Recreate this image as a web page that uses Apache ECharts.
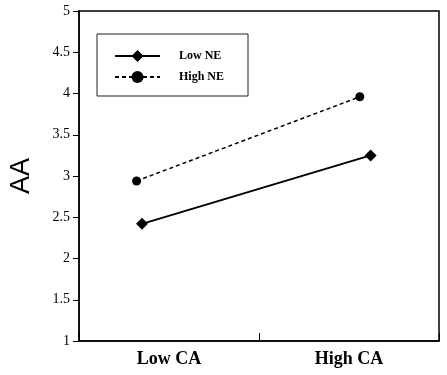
<!DOCTYPE html>
<html lang="en">
<head>
    <meta charset="UTF-8">
    <title>AA by CA and NE</title>
    <script src="https://cdn.jsdelivr.net/npm/echarts@6/dist/echarts.min.js"></script>
    <style>
        html, body { margin: 0; height: 100%; background: #fff; }
        #chart { width: 447px; height: 375px; }
    </style>
</head>
<body>
    <div id="chart"></div>
    <script>
        // data
        var categories = ['Low CA', 'High CA'];
        var lowNeX = [0.35, 1.62];
        var lowNe = [2.42, 3.25];
        var highNeX = [0.32, 1.56];
        var highNe = [2.94, 3.96];
        var yTicks = [1, 1.5, 2, 2.5, 3, 3.5, 4, 4.5, 5];

        var serif = '"Liberation Serif", "DejaVu Serif", serif';

        function pairs(xs, ys) {
            return xs.map(function (x, i) { return [x, ys[i]]; });
        }

        var chart = echarts.init(document.getElementById('chart'));

        var option = {
            animation: false,
            grid: {
                left: 74, right: 8, top: 11, bottom: 34,
                show: true, borderColor: '#000', borderWidth: 1.5
            },
            legend: {
                orient: 'vertical',
                left: 97, top: 34,
                padding: [16, 24, 13, 17],
                borderColor: '#222', borderWidth: 1,
                itemWidth: 45, itemHeight: 15, itemGap: 9,
                textStyle: { fontFamily: serif, fontWeight: 'bold', fontSize: 12, color: '#000', padding: [0, 0, 0, 14] },
                data: ['Low NE', 'High NE']
            },
            xAxis: [
                {
                    type: 'category',
                    data: categories,
                    boundaryGap: true,
                    axisLine: { lineStyle: { color: '#000', width: 1.5 } },
                    axisTick: { show: true, inside: true, length: 8, lineStyle: { color: '#000' } },
                    axisLabel: { fontFamily: serif, fontWeight: 'bold', fontSize: 18, color: '#000', margin: 9 }
                },
                {
                    type: 'value', min: 0, max: 2, position: 'bottom',
                    show: false
                }
            ],
            yAxis: {
                type: 'value', min: 1, max: 5, interval: 0.5,
                name: 'AA', nameLocation: 'middle', nameGap: 44,
                nameTextStyle: { fontFamily: '"Liberation Sans", Arial, sans-serif', fontSize: 27, color: '#000' },
                axisLine: { show: true, lineStyle: { color: '#000', width: 1.5 } },
                axisTick: { show: true, length: 6, lineStyle: { color: '#000' } },
                splitLine: { show: false },
                axisLabel: {
                    fontFamily: serif, fontSize: 14, color: '#000', margin: 9,
                    formatter: function (v) { return yTicks.indexOf(v) >= 0 ? String(v) : ''; }
                }
            },
            series: [
                {
                    name: 'Low NE', type: 'line', xAxisIndex: 1,
                    data: pairs(lowNeX, lowNe),
                    symbol: 'diamond', symbolSize: 12,
                    itemStyle: { color: '#000' },
                    lineStyle: { color: '#000', width: 2, type: 'solid' }
                },
                {
                    name: 'High NE', type: 'line', xAxisIndex: 1,
                    data: pairs(highNeX, highNe),
                    symbol: 'circle', symbolSize: 9,
                    itemStyle: { color: '#000' },
                    lineStyle: { color: '#000', width: 1.5, type: [4, 3] }
                }
            ]
        };

        chart.setOption(option);
    </script>
</body>
</html>
